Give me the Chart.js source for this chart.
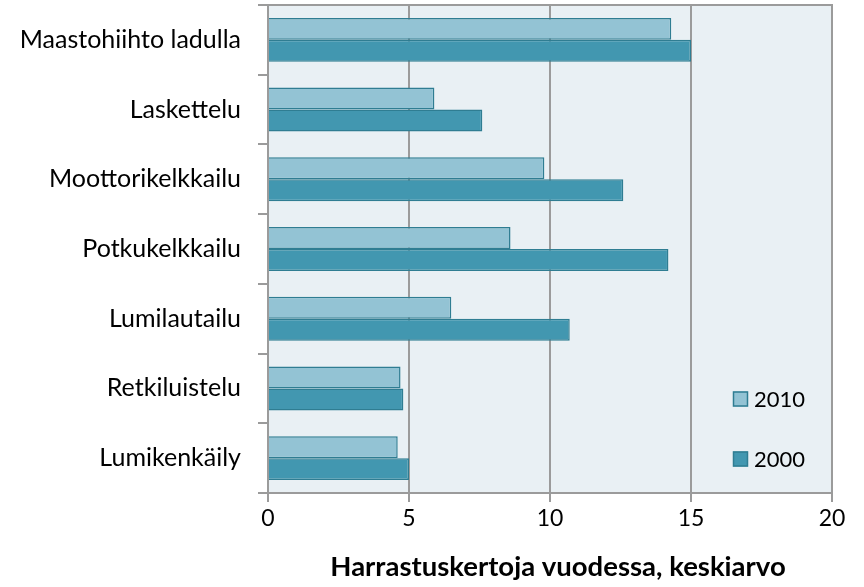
<!DOCTYPE html>
<html>
<head>
<meta charset="utf-8">
<script src="https://cdn.jsdelivr.net/npm/chart.js@4/dist/chart.umd.min.js"></script>
<style>
html,body{margin:0;padding:0;background:#fff;}
#wrap{width:864px;height:587px;position:relative;}
</style>
</head>
<body>
<div id="wrap"><canvas id="c" width="864" height="587"></canvas></div>
<script>
const categories = ["Maastohiihto ladulla","Laskettelu","Moottorikelkkailu","Potkukelkkailu","Lumilautailu","Retkiluistelu","Lumikenkäily"];
const values2010 = [14.3, 5.9, 9.8, 8.6, 6.5, 4.7, 4.6];
const values2000 = [15.0, 7.6, 12.6, 14.2, 10.7, 4.8, 5.0];
const seriesNames = ["2010", "2000"];
const xTicks = [0, 5, 10, 15, 20];
const xTitle = "Harrastuskertoja vuodessa, keskiarvo";

const FONT = "Lato, 'Liberation Sans', sans-serif";
const colLight = "#93c3d4", colDark = "#4297b0", colBorder = "#2f7d92";
const gridCol = "#9b9b9b";

const deco = {
  id: 'deco',
  beforeDraw(chart) {
    const {ctx, chartArea: a} = chart;
    ctx.save();
    ctx.fillStyle = "#e9f0f4";
    ctx.fillRect(a.left, a.top, a.right - a.left, a.bottom - a.top);
    ctx.restore();
  },
  afterDraw(chart) {
    const {ctx, chartArea: a} = chart;
    ctx.save();
    ctx.strokeStyle = gridCol;
    ctx.lineWidth = 2;
    ctx.beginPath();
    ctx.moveTo(a.left, a.top); ctx.lineTo(a.right, a.top); ctx.lineTo(a.right, a.bottom);
    ctx.stroke();
    // legend
    ctx.font = "22px " + FONT;
    ctx.textBaseline = "middle";
    ctx.textAlign = "left";
    const items = chart.data.datasets;
    const lx = 733, ys = [399, 459];
    items.forEach((ds, i) => {
      ctx.fillStyle = ds.backgroundColor;
      ctx.strokeStyle = ds.borderColor;
      ctx.lineWidth = 1.5;
      ctx.fillRect(lx, ys[i] - 7.5, 15, 15);
      ctx.strokeRect(lx + 0.5, ys[i] - 7, 14, 14);
      ctx.fillStyle = "#000";
      ctx.fillText(ds.label, lx + 21, ys[i] + 1);
    });
    // axis title
    ctx.font = "bold 27.5px " + FONT;
    ctx.textAlign = "center";
    ctx.fillText(xTitle, 558, 567);
    ctx.restore();
  }
};

new Chart(document.getElementById('c'), {
  type: 'bar',
  data: {
    labels: categories,
    datasets: [
      {label: seriesNames[0], data: values2010, backgroundColor: colLight, borderColor: colBorder, borderWidth: 1.5, categoryPercentage: 0.63, barPercentage: 1.0},
      {label: seriesNames[1], data: values2000, backgroundColor: colDark, borderColor: colBorder, borderWidth: 1.5, categoryPercentage: 0.63, barPercentage: 1.0}
    ]
  },
  options: {
    indexAxis: 'y',
    responsive: false,
    animation: false,
    layout: {padding: {top: 5, right: 32, left: 0, bottom: 0}},
    plugins: {legend: {display: false}, tooltip: {enabled: false}},
    scales: {
      x: {
        min: 0, max: 20,
        afterBuildTicks(scale) { scale.ticks = xTicks.map(v => ({value: v})); },
        afterFit(scale) { scale.height = 94; },
        grid: {color: gridCol, lineWidth: 2, drawTicks: true, tickLength: 9, tickColor: gridCol},
        border: {color: gridCol, width: 2},
        ticks: {color: "#000", font: {family: FONT, size: 23}, padding: 3, maxRotation: 0}
      },
      y: {
        afterFit(scale) { scale.width = 268; scale.paddingTop = 0; scale.paddingBottom = 0; },
        grid: {offset: true, drawOnChartArea: false, color: gridCol, lineWidth: 2, tickLength: 10},
        border: {color: gridCol, width: 2},
        ticks: {color: "#000", font: {family: FONT, size: 25}, padding: 17}
      }
    }
  },
  plugins: [deco]
});
</script>
</body>
</html>
